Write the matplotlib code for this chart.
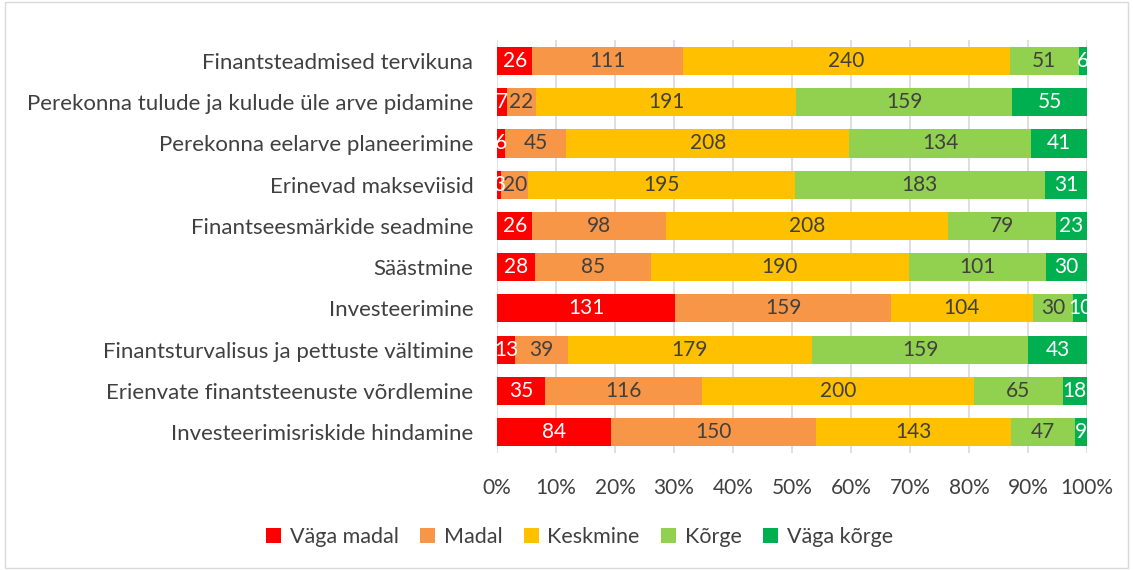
import numpy as np
import matplotlib.pyplot as plt
from matplotlib.patches import Rectangle

plt.rcParams['font.family'] = ['Lato', 'DejaVu Sans']

categories = ["Finantsteadmised tervikuna",
              "Perekonna tulude ja kulude üle arve pidamine",
              "Perekonna eelarve planeerimine",
              "Erinevad makseviisid",
              "Finantseesmärkide seadmine",
              "Säästmine",
              "Investeerimine",
              "Finantsturvalisus ja pettuste vältimine",
              "Erienvate finantsteenuste võrdlemine",
              "Investeerimisriskide hindamine"]

series = ["Väga madal", "Madal", "Keskmine", "Kõrge", "Väga kõrge"]
vaga_madal = [26, 7, 6, 3, 26, 28, 131, 13, 35, 84]
madal = [111, 22, 45, 20, 98, 85, 159, 39, 116, 150]
keskmine = [240, 191, 208, 195, 208, 190, 104, 179, 200, 143]
korge = [51, 159, 134, 183, 79, 101, 30, 159, 65, 47]
vaga_korge = [6, 55, 41, 31, 23, 30, 10, 43, 18, 9]

colors = ["#FF0000", "#F79646", "#FFC000", "#92D050", "#00B050"]
text_colors = ["white", "#404040", "#404040", "#404040", "white"]

data = np.array([vaga_madal, madal, keskmine, korge, vaga_korge], dtype=float)
pct = data / data.sum(axis=0) * 100

fig = plt.figure(figsize=(11.33, 5.7), dpi=100)
ax = fig.add_axes([0.4387, 0.206, 0.5207, 0.723])

y = np.arange(len(categories))
left = np.zeros(len(categories))
for i in range(len(series)):
    ax.barh(y, pct[i], left=left, height=0.68, color=colors[i], label=series[i], zorder=3)
    for j in range(len(categories)):
        ax.text(left[j] + pct[i][j] / 2, y[j], str(int(data[i][j])), ha="center", va="center",
                color=text_colors[i], fontsize=15, zorder=4)
    left += pct[i]

ax.set_xlim(0, 100)
ax.set_ylim(len(categories) - 0.5, -0.5)
ax.set_yticks(y)
ax.set_yticklabels(categories, fontsize=16, color="#404040")
ax.set_xticks(np.arange(0, 101, 10))
ax.set_xticklabels([f"{v}%" for v in range(0, 101, 10)], fontsize=15, color="#404040")
ax.tick_params(axis="y", length=0, pad=17)
ax.tick_params(axis="x", length=0, pad=18)
ax.xaxis.grid(True, color="#D9D9D9", linewidth=1.2, zorder=0)
for s in ax.spines.values():
    s.set_visible(False)

ax.legend(loc="center", bbox_to_anchor=(0.5115, 0.058), bbox_transform=fig.transFigure,
          ncol=5, frameon=False, fontsize=15.5, handlelength=0.7, handleheight=0.7,
          handletextpad=0.4, columnspacing=1.0, labelcolor="#404040")

fig.patches.append(Rectangle((0.004, 0.004), 0.992, 0.992, transform=fig.transFigure,
                             fill=False, edgecolor="#D9D9D9", linewidth=1))

plt.savefig("out.png", dpi=100)
